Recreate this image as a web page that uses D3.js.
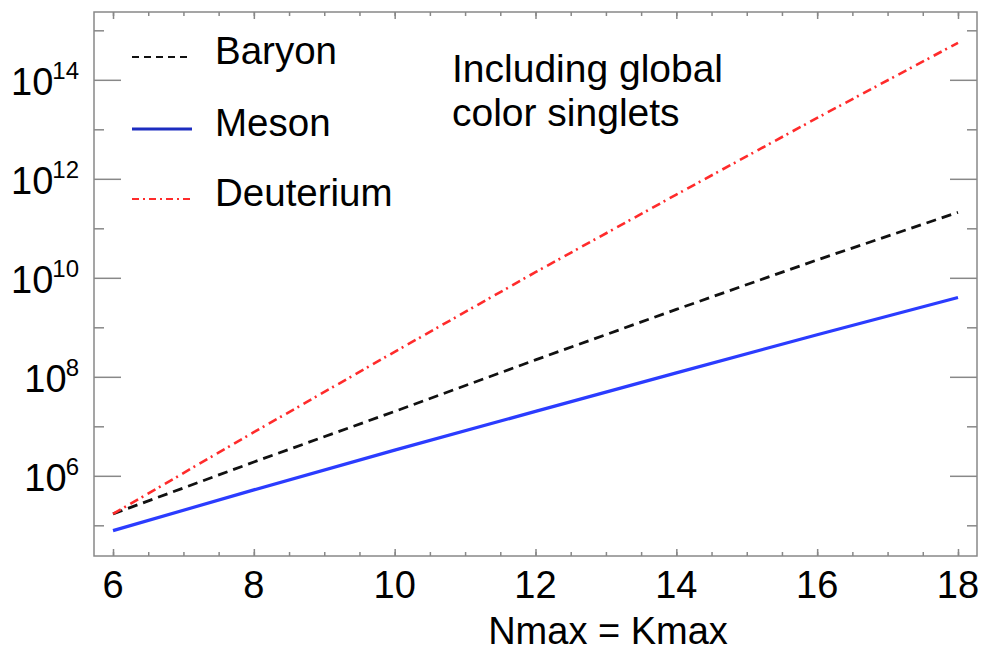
<!DOCTYPE html>
<html><head><meta charset="utf-8">
<script src="https://cdn.jsdelivr.net/npm/d3@7"></script>
<style>body{margin:0;background:#fff}svg{display:block}text{font-family:"Liberation Sans",Arial,sans-serif;fill:#000}</style>
</head><body><svg id="c" width="982" height="653"></svg>
<script>
const nmax = [6, 8, 10, 12, 14, 16, 18];
const baryon = [1.7e5, 1.9e6, 2.0e7, 2.2e8, 2.3e9, 2.3e10, 2.1e11];
const meson = [7.8e4, 5.2e5, 3.3e6, 2.0e7, 1.2e8, 7.1e8, 4.0e9];
const deuterium = [1.7e5, 7.6e6, 3.2e8, 1.3e10, 4.8e11, 1.7e13, 5.6e14];
const xMajor = [6, 8, 10, 12, 14, 16, 18];
const xMinor = d3.range(6, 18.01, 0.5);
const yMajorExp = [6, 8, 10, 12, 14];
const yMinorExp = [5, 7, 9, 11, 13, 15];
const seriesNames = ["Baryon", "Meson", "Deuterium"];
const noteLines = ["Including global", "color singlets"];
const xTitle = "Nmax = Kmax";

const svg = d3.select("#c");
const L = 94, R = 977, T = 12, B = 556;
const x = d3.scaleLinear().domain([5.73, 18.27]).range([L, R]);
const y = d3.scaleLog().domain([Math.pow(10, 4.38), Math.pow(10, 15.37)]).range([B, T]);
const axisCol = "#888";

function styleAxis(g) {
  g.select(".domain").remove();
  g.selectAll("line").attr("stroke", axisCol).attr("stroke-width", 1.5);
  g.selectAll("text").remove();
}
svg.append("g").attr("transform", `translate(${L},0)`).call(d3.axisLeft(y).tickValues(yMajorExp.map(e => Math.pow(10, e))).tickSize(-27)).call(styleAxis);
svg.append("g").attr("transform", `translate(${L},0)`).call(d3.axisLeft(y).tickValues(yMinorExp.map(e => Math.pow(10, e))).tickSize(-10)).call(styleAxis);
svg.append("g").attr("transform", `translate(${R},0)`).call(d3.axisRight(y).tickValues(yMajorExp.map(e => Math.pow(10, e))).tickSize(-27)).call(styleAxis);
svg.append("g").attr("transform", `translate(${R},0)`).call(d3.axisRight(y).tickValues(yMinorExp.map(e => Math.pow(10, e))).tickSize(-10)).call(styleAxis);
svg.append("g").attr("transform", `translate(0,${B})`).call(d3.axisBottom(x).tickValues(xMajor).tickSize(-7)).call(styleAxis);
svg.append("g").attr("transform", `translate(0,${B})`).call(d3.axisBottom(x).tickValues(xMinor).tickSize(-4)).call(styleAxis);
svg.append("g").attr("transform", `translate(0,${T})`).call(d3.axisTop(x).tickValues(xMajor).tickSize(-7)).call(styleAxis);
svg.append("g").attr("transform", `translate(0,${T})`).call(d3.axisTop(x).tickValues(xMinor).tickSize(-4)).call(styleAxis);

svg.append("rect").attr("x", L).attr("y", T).attr("width", R - L).attr("height", B - T)
  .attr("fill", "none").attr("stroke", axisCol).attr("stroke-width", 1.5);

// y tick labels
yMajorExp.forEach(e => {
  const t = svg.append("text").attr("x", 79).attr("y", y(Math.pow(10, e)) + 15)
    .attr("text-anchor", "end").attr("font-size", 38);
  t.append("tspan").text("10");
  t.append("tspan").attr("dx", -1).attr("dy", -16).attr("font-size", 24).text(e);
});
// x tick labels
xMajor.forEach(v => {
  svg.append("text").attr("x", x(v)).attr("y", 598).attr("text-anchor", "middle")
    .attr("font-size", 38).text(v);
});
svg.append("text").attr("x", 608).attr("y", 644).attr("text-anchor", "middle")
  .attr("font-size", 38).text(xTitle);

const line = d3.line().x((d, i) => x(nmax[i])).y(d => y(d));
const styles = [
  {data: baryon, color: "#111", w: 2.8, dash: "10,6", lcolor: "#111", lw: 2, ldash: "7,5"},
  {data: meson, color: "#2b3cff", w: 3.2, dash: null, lcolor: "#1c2cc0", lw: 3, ldash: null},
  {data: deuterium, color: "#ff2b2b", w: 2.6, dash: "9,4,2,5", lcolor: "#ff2b2b", lw: 2, ldash: "7,4,2,4"}
];
styles.forEach(s => {
  svg.append("path").attr("d", line(s.data)).attr("fill", "none")
    .attr("stroke", s.color).attr("stroke-width", s.w)
    .attr("stroke-dasharray", s.dash);
});

// legend
const legY = [57, 129, 199];
const legTextY = [64, 136, 206];
styles.forEach((s, i) => {
  svg.append("line").attr("x1", 132).attr("x2", 192).attr("y1", legY[i]).attr("y2", legY[i])
    .attr("stroke", s.lcolor).attr("stroke-width", s.lw).attr("stroke-dasharray", s.ldash);
  svg.append("text").attr("x", 215).attr("y", legTextY[i]).attr("font-size", 38.5).text(seriesNames[i]);
});

noteLines.forEach((t, i) => {
  svg.append("text").attr("x", 452).attr("y", 82 + i * 44).attr("font-size", 39).text(t);
});
</script></body></html>
